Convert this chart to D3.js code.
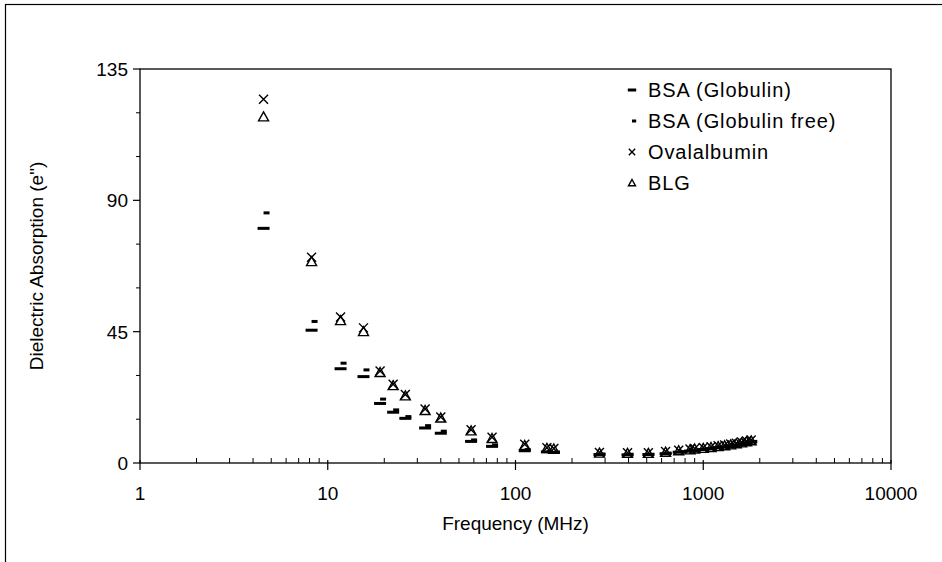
<!DOCTYPE html>
<html>
<head>
<meta charset="utf-8">
<script src="https://cdn.jsdelivr.net/npm/d3@7"></script>
<style>
  body { margin: 0; background: #fff; }
  text { font-family: "Liberation Sans", Arial, sans-serif; fill: #000; }
</style>
</head>
<body>
<div id="chart"></div>
<script>
// frequencies in MHz
const freqs = [4.55, 8.2, 11.7, 15.5, 19, 22.3, 25.9, 33, 40, 58, 75, 112, 147, 160, 280, 395, 510, 630, 740,
    850, 900, 1000, 1100, 1200, 1300, 1400, 1500, 1600, 1700, 1800];

const bsaGlobulin = [80.4, 45.5, 32.3, 29.6, 20.4, 17.4, 15.3, 12.0, 10.2, 7.4, 5.7, 4.2, 3.8, 3.6, 2.9, 2.8, 2.9, 3.2, 3.7,
    4.1, 4.3, 4.6, 4.9, 5.2, 5.5, 5.8, 6.1, 6.5, 6.8, 7.2];
const bsaGlobulinFree = [85.7, 48.5, 34.2, 31.9, 21.9, 18.2, 15.9, 12.8, 10.9, 7.9, 6.2, 4.6, 4.0, 3.8, 3.1, 3.0, 3.0, 3.4, 3.9,
    4.3, 4.5, 4.8, 5.1, 5.4, 5.7, 6.0, 6.3, 6.7, 7.0, 7.4];
const ovalalbumin = [124.6, 70.5, 50.0, 46.3, 31.5, 27.0, 23.5, 18.5, 15.8, 11.4, 8.8, 6.4, 5.2, 5.0, 3.6, 3.5, 3.5, 3.9, 4.4,
    4.8, 5.0, 5.3, 5.6, 5.9, 6.2, 6.5, 6.8, 7.2, 7.5, 7.9];
const blg = [118.6, 69.0, 48.8, 45.0, 31.0, 26.5, 23.0, 18.0, 15.4, 11.0, 8.4, 6.0, 5.0, 4.8, 3.4, 3.3, 3.3, 3.7, 4.2,
    4.5, 4.8, 5.0, 5.3, 5.6, 5.9, 6.2, 6.6, 6.9, 7.3, 7.6];

const seriesNames = ["BSA (Globulin)", "BSA (Globulin free)", "Ovalalbumin", "BLG"];
const seriesMarkers = ["longDash", "shortDash", "cross", "triangle"];
const seriesValues = [bsaGlobulin, bsaGlobulinFree, ovalalbumin, blg];

const xTicks = [1, 10, 100, 1000, 10000];
const yTicks = [0, 45, 90, 135];

const W = 942, H = 562;
const margin = { top: 69, right: 51, bottom: 99, left: 140 };
const width = W - margin.left - margin.right;
const height = H - margin.top - margin.bottom;

const svg = d3.select("#chart").append("svg")
    .attr("width", W)
    .attr("height", H);

// outer frame (runs off the right/bottom edge)
svg.append("rect")
    .attr("x", 5.5).attr("y", 4.5)
    .attr("width", W + 20).attr("height", H + 20)
    .attr("fill", "none")
    .attr("stroke", "#000")
    .attr("stroke-width", 1.2);

const g = svg.append("g")
    .attr("transform", "translate(" + margin.left + "," + margin.top + ")");

const x = d3.scaleLog().domain([1, 10000]).range([0, width]);
const y = d3.scaleLinear().domain([0, 135]).range([height, 0]);

// plot box
g.append("rect")
    .attr("width", width).attr("height", height)
    .attr("fill", "none")
    .attr("stroke", "#000")
    .attr("stroke-width", 1.3);

// x axis: minor ticks inside, major ticks crossing
const minorX = [];
for (let d = 1; d < 10000; d *= 10) {
    for (let k = 2; k <= 9; k++) minorX.push(d * k);
}
g.selectAll(".xminor").data(minorX).enter().append("line")
    .attr("x1", d => x(d)).attr("x2", d => x(d))
    .attr("y1", height - 5).attr("y2", height)
    .attr("stroke", "#000").attr("stroke-width", 1);

g.selectAll(".xmajor").data(xTicks).enter().append("line")
    .attr("x1", d => x(d)).attr("x2", d => x(d))
    .attr("y1", height - 3).attr("y2", height + 7)
    .attr("stroke", "#000").attr("stroke-width", 1.2);

g.selectAll(".xlabel").data(xTicks).enter().append("text")
    .attr("x", d => x(d))
    .attr("y", height + 37)
    .attr("text-anchor", "middle")
    .style("font-size", "19px")
    .text(d => d);

// y axis ticks outside
const minorY = d3.range(0, 136, 15).filter(d => yTicks.indexOf(d) < 0);
g.selectAll(".yminor").data(minorY).enter().append("line")
    .attr("x1", -4).attr("x2", 0)
    .attr("y1", d => y(d)).attr("y2", d => y(d))
    .attr("stroke", "#000").attr("stroke-width", 1);

g.selectAll(".ymajor").data(yTicks).enter().append("line")
    .attr("x1", -7).attr("x2", 0)
    .attr("y1", d => y(d)).attr("y2", d => y(d))
    .attr("stroke", "#000").attr("stroke-width", 1.2);

g.selectAll(".ylabel").data(yTicks).enter().append("text")
    .attr("x", -12)
    .attr("y", d => y(d) + 7)
    .attr("text-anchor", "end")
    .style("font-size", "19px")
    .text(d => d);

// axis titles
g.append("text")
    .attr("x", width / 2)
    .attr("y", height + 67)
    .attr("text-anchor", "middle")
    .style("font-size", "19px")
    .text("Frequency (MHz)");

g.append("text")
    .attr("transform", "translate(" + (-97) + "," + (height / 2) + ") rotate(-90)")
    .attr("text-anchor", "middle")
    .style("font-size", "19px")
    .text("Dielectric Absorption (e\")");

// marker drawing
function drawMarker(sel, type, s) {
    if (type === "longDash") {
        sel.append("rect").attr("x", -6 * s).attr("y", -1.5).attr("width", 12 * s).attr("height", 3).attr("fill", "#000");
    } else if (type === "shortDash") {
        sel.append("rect").attr("x", 0).attr("y", -1.5).attr("width", 6 * s).attr("height", 3).attr("fill", "#000");
    } else if (type === "cross") {
        const r = 4.5 * s;
        sel.append("path").attr("d", `M${-r},${-r}L${r},${r}M${-r},${r}L${r},${-r}`)
            .attr("stroke", "#000").attr("stroke-width", 1.4).attr("fill", "none");
    } else {
        const r = 5 * s;
        sel.append("path").attr("d", `M0,${-r}L${r},${r * 0.8}L${-r},${r * 0.8}Z`)
            .attr("stroke", "#000").attr("stroke-width", 1.4).attr("fill", "none");
    }
}

seriesValues.forEach((vals, si) => {
    const pts = g.append("g").selectAll("g").data(vals).enter().append("g")
        .attr("transform", (d, i) => "translate(" + x(freqs[i]) + "," + y(d) + ")");
    pts.each(function () { drawMarker(d3.select(this), seriesMarkers[si], 1); });
});

// legend
const legend = svg.append("g").attr("transform", "translate(632, 90)");
const items = legend.selectAll("g").data(seriesNames).enter().append("g")
    .attr("transform", (d, i) => "translate(0," + (i * 31) + ")");
items.each(function (d, i) { drawMarker(d3.select(this), seriesMarkers[i], 0.7); });
items.append("text")
    .attr("x", 16)
    .attr("y", 7)
    .style("font-size", "20px")
    .style("letter-spacing", "0.9px")
    .text(d => d);
</script>
</body>
</html>
